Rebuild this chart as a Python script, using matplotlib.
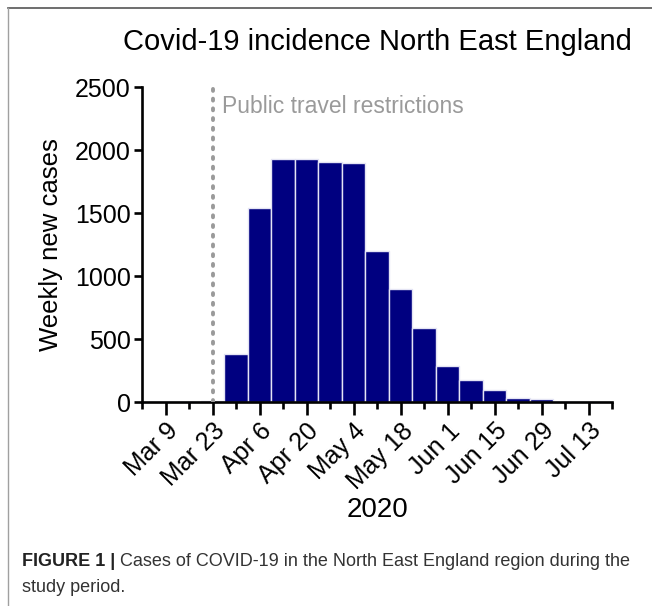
import matplotlib

matplotlib.use("Agg")

import matplotlib.pyplot as plt  # noqa: E402
import matplotlib.dates as mdates  # noqa: E402
import numpy as np  # noqa: E402
from matplotlib.lines import Line2D  # noqa: E402

plt.rcParams["font.family"] = ["Liberation Sans", "DejaVu Sans"]

# weekly new cases, week starting
week_start = [
    "2020-03-02", "2020-03-09", "2020-03-16", "2020-03-23", "2020-03-30",
    "2020-04-06", "2020-04-13", "2020-04-20", "2020-04-27", "2020-05-04",
    "2020-05-11", "2020-05-18", "2020-05-25", "2020-06-01", "2020-06-08",
    "2020-06-15", "2020-06-22", "2020-06-29", "2020-07-06", "2020-07-13",
]
weekly_cases = [
    0, 0, 0, 12, 380,
    1537, 1927, 1932, 1908, 1895,
    1200, 896, 588, 284, 172,
    95, 29, 21, 0, 0,
]
restriction_date = "2020-03-23"
restriction_label = "Public travel restrictions"
x_range = ("2020-03-02", "2020-07-20")
y_ticks = [0, 500, 1000, 1500, 2000, 2500]

title = "Covid-19 incidence North East England"
y_title = "Weekly new cases"
x_title = "2020"
caption_bold = "FIGURE 1 |"
caption_rest = " Cases of COVID-19 in the North East England region during the"
caption_line2 = "study period."

dates = np.array(week_start, dtype="datetime64[D]")

fig = plt.figure(figsize=(6.52, 6.06), dpi=100)
ax = fig.add_axes([0.2178, 0.3366, 0.7209, 0.5198])

ax.bar(dates, weekly_cases, width=7, color="#000080",
       edgecolor="#e4e4f4", linewidth=1.0, zorder=2)

rd = np.datetime64(restriction_date)
ax.axvline(rd, color="#9a9a9a", linestyle=(0, (0.5, 2.0)), linewidth=2.8,
           dash_capstyle="round", zorder=3)
ax.annotate(restriction_label, xy=(rd, 2343), xytext=(7, 0),
            textcoords="offset points", va="center", ha="left",
            fontsize=16.5, color="#9a9a9a")

ax.set_xlim(np.datetime64(x_range[0]), np.datetime64(x_range[1]))
ax.set_ylim(0, 2500)
ax.set_yticks(y_ticks)

major = np.array(week_start[1::2], dtype="datetime64[D]")
ax.set_xticks(major)
ax.set_xticks(np.array(week_start[0::2] + [x_range[1]], dtype="datetime64[D]"),
              minor=True)
ax.xaxis.set_major_formatter(mdates.DateFormatter("%b %-d"))

for s in ("top", "right"):
    ax.spines[s].set_visible(False)
for s in ("left", "bottom"):
    ax.spines[s].set_linewidth(1.9)

ax.tick_params(axis="y", which="major", length=6, width=1.9, labelsize=18, pad=2)
ax.tick_params(axis="x", which="major", length=9, width=1.9, labelsize=18, pad=3)
ax.tick_params(axis="x", which="minor", length=5, width=1.9)
for lbl in ax.get_xticklabels():
    lbl.set_rotation(45)
    lbl.set_ha("right")
    lbl.set_rotation_mode("anchor")

ax.set_ylabel(y_title, fontsize=18.5, labelpad=9)

cx = 0.2178 + 0.7209 / 2
fig.text(cx, 0.930, title, ha="center", va="center", fontsize=21)
fig.text(cx, 0.158, x_title, ha="center", va="center", fontsize=20)

# page frame
fig.add_artist(Line2D([8 / 652, 1], [1 - 8 / 606] * 2, color="#555555", lw=1.2))
fig.add_artist(Line2D([8 / 652] * 2, [0, 1 - 8 / 606], color="#a0a0a0", lw=1.0))

# caption
t1 = fig.text(22 / 652, 1 - 562 / 606, caption_bold, fontsize=13,
              fontweight="bold", color="#222222", va="center", ha="left")
fig.canvas.draw()
bb = t1.get_window_extent(fig.canvas.get_renderer())
fig.text(bb.x1 / fig.bbox.width, 1 - 562 / 606, caption_rest, fontsize=13,
         color="#333333", va="center", ha="left")
fig.text(22 / 652, 1 - 588 / 606, caption_line2, fontsize=13,
         color="#333333", va="center", ha="left")

fig.savefig("out.png", dpi=100)
